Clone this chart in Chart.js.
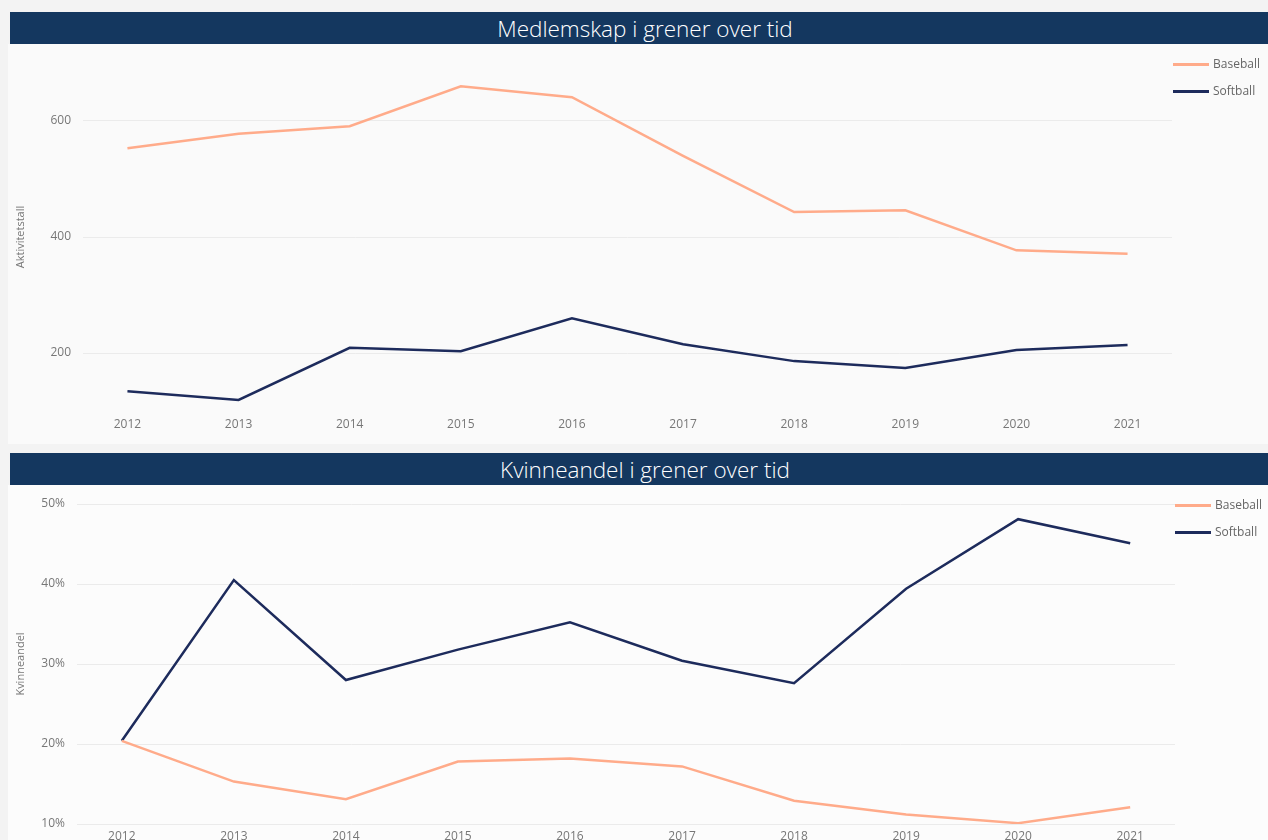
<!DOCTYPE html>
<html>
<head>
<meta charset="utf-8">
<script src="https://cdn.jsdelivr.net/npm/chart.js@4"></script>
<style>
  html, body { margin: 0; padding: 0; }
  body { width: 1268px; height: 840px; background: #f3f3f3; position: relative; overflow: hidden; font-family: "Open Sans", sans-serif; }
  .panel { position: absolute; left: 8px; width: 1260px; }
  .bar { position: absolute; left: 10px; width: 1246px; height: 30px; padding: 2px 0 0 12px; background: #14375f; color: #fff; font-size: 22.5px; font-weight: 300; line-height: 30px; text-align: center; }
  .wrap { position: absolute; left: 0; width: 1268px; }
  .legend { position: absolute; font-size: 12px; color: #666; }
  .legend div { position: relative; height: 14px; line-height: 14px; padding-left: 40px; white-space: nowrap; }
  .legend span { position: absolute; left: 0; top: 6px; width: 36px; height: 3px; }
</style>
</head>
<body>
<div class="panel" style="top:44px;height:400px;background:#fafafa;"></div>
<div class="panel" style="top:485px;height:355px;background:#fcfcfc;"></div>
<div class="bar" style="top:12px;">Medlemskap i grener over tid</div>
<div class="bar" style="top:453px;">Kvinneandel i grener over tid</div>

<div class="wrap" style="top:44px;height:400px;"><canvas id="grafMedlem"></canvas></div>
<div class="wrap" style="top:485px;height:355px;"><canvas id="grafKvinne"></canvas></div>

<div class="legend" id="legendMedlem" style="left:1173px;top:57px;"></div>
<div class="legend" id="legendKvinne" style="left:1175px;top:498px;"></div>

<script>
// ===== DATA =====
const aar = [2012, 2013, 2014, 2015, 2016, 2017, 2018, 2019, 2020, 2021];
const grener = ['Baseball', 'Softball'];
const farger = ['#ffab8a', '#1d2b5c'];

// Aktivitetstall
const medlemBaseball = [553, 578, 591, 660, 641, 540, 443, 446, 377, 371];
const medlemSoftball = [134, 119, 209, 203, 260, 215, 186, 174, 205, 214];
const medlemTicks = [200, 400, 600];

// Kvinneandel (prosent)
const kvinneBaseball = [20.4, 15.3, 13.1, 17.8, 18.2, 17.2, 12.9, 11.2, 10.1, 12.1];
const kvinneSoftball = [20.4, 40.5, 28.0, 31.8, 35.2, 30.4, 27.6, 39.4, 48.1, 45.1];
const kvinneTicks = [10, 20, 30, 40, 50];

// ===== HJELPERE =====
function punkter(verdier) {
  return aar.map((a, i) => ({ x: a, y: verdier[i] }));
}

function lagSerie(navn, verdier, farge) {
  return {
    label: navn,
    data: punkter(verdier),
    borderColor: farge,
    backgroundColor: farge,
    borderWidth: 2.5,
    pointRadius: 0,
    pointHoverRadius: 0,
    tension: 0
  };
}

function lagLegend(id) {
  const el = document.getElementById(id);
  el.innerHTML = grener.map((g, i) =>
    `<div style="margin-bottom:${i === 0 ? 13 : 0}px;"><span style="background:${farger[i]}"></span>${g}</div>`
  ).join('');
}

function lagGraf(id, serier, yOpts, tickList, tickFmt, yTittel, yBredde, hoyrePad, xHoyde, xPad) {
  const ctx = document.getElementById(id);
  return new Chart(ctx, {
    type: 'line',
    data: { datasets: serier },
    options: {
      responsive: true,
      maintainAspectRatio: false,
      animation: false,
      layout: { padding: { top: 19, right: hoyrePad, left: 0, bottom: 0 } },
      plugins: { legend: { display: false }, tooltip: { enabled: false } },
      scales: {
        x: {
          type: 'linear',
          min: 2011.6,
          max: 2021.4,
          afterBuildTicks: s => { s.ticks = aar.map(v => ({ value: v })); },
          afterFit: s => { s.height = xHoyde; s.paddingLeft = 0; s.paddingRight = 0; },
          grid: { display: false, drawTicks: false },
          border: { display: false },
          ticks: {
            color: '#777',
            font: { family: 'Open Sans', size: 12 },
            padding: xPad,
            maxRotation: 0,
            autoSkip: false,
            callback: v => String(v)
          }
        },
        y: Object.assign({
          afterBuildTicks: s => { s.ticks = tickList.map(v => ({ value: v })); },
          afterFit: s => { s.width = yBredde; s.paddingTop = 0; s.paddingBottom = 0; },
          grid: { color: '#ebebeb', lineWidth: 1, drawTicks: false },
          border: { display: false },
          title: {
            display: true,
            text: yTittel,
            color: '#777',
            font: { family: 'Open Sans', size: 11 },
            padding: { top: 14, bottom: 0 }
          },
          ticks: {
            color: '#777',
            font: { family: 'Open Sans', size: 12 },
            padding: 12,
            callback: tickFmt
          }
        }, yOpts)
      }
    }
  });
}

// ===== GRAF: MEDLEMSKAP =====
lagGraf('grafMedlem',
  [lagSerie(grener[0], medlemBaseball, farger[0]), lagSerie(grener[1], medlemSoftball, farger[1])],
  { min: 100, max: 700 },
  medlemTicks, v => String(v), 'Aktivitetstall', 83, 96, 33, 6);

// ===== GRAF: KVINNEANDEL =====
lagGraf('grafKvinne',
  [lagSerie(grener[0], kvinneBaseball, farger[0]), lagSerie(grener[1], kvinneSoftball, farger[1])],
  { min: 10, max: 50 },
  kvinneTicks, v => v + '%', 'Kvinneandel', 77, 93, 16, 5);

lagLegend('legendMedlem');
lagLegend('legendKvinne');
</script>
</body>
</html>
